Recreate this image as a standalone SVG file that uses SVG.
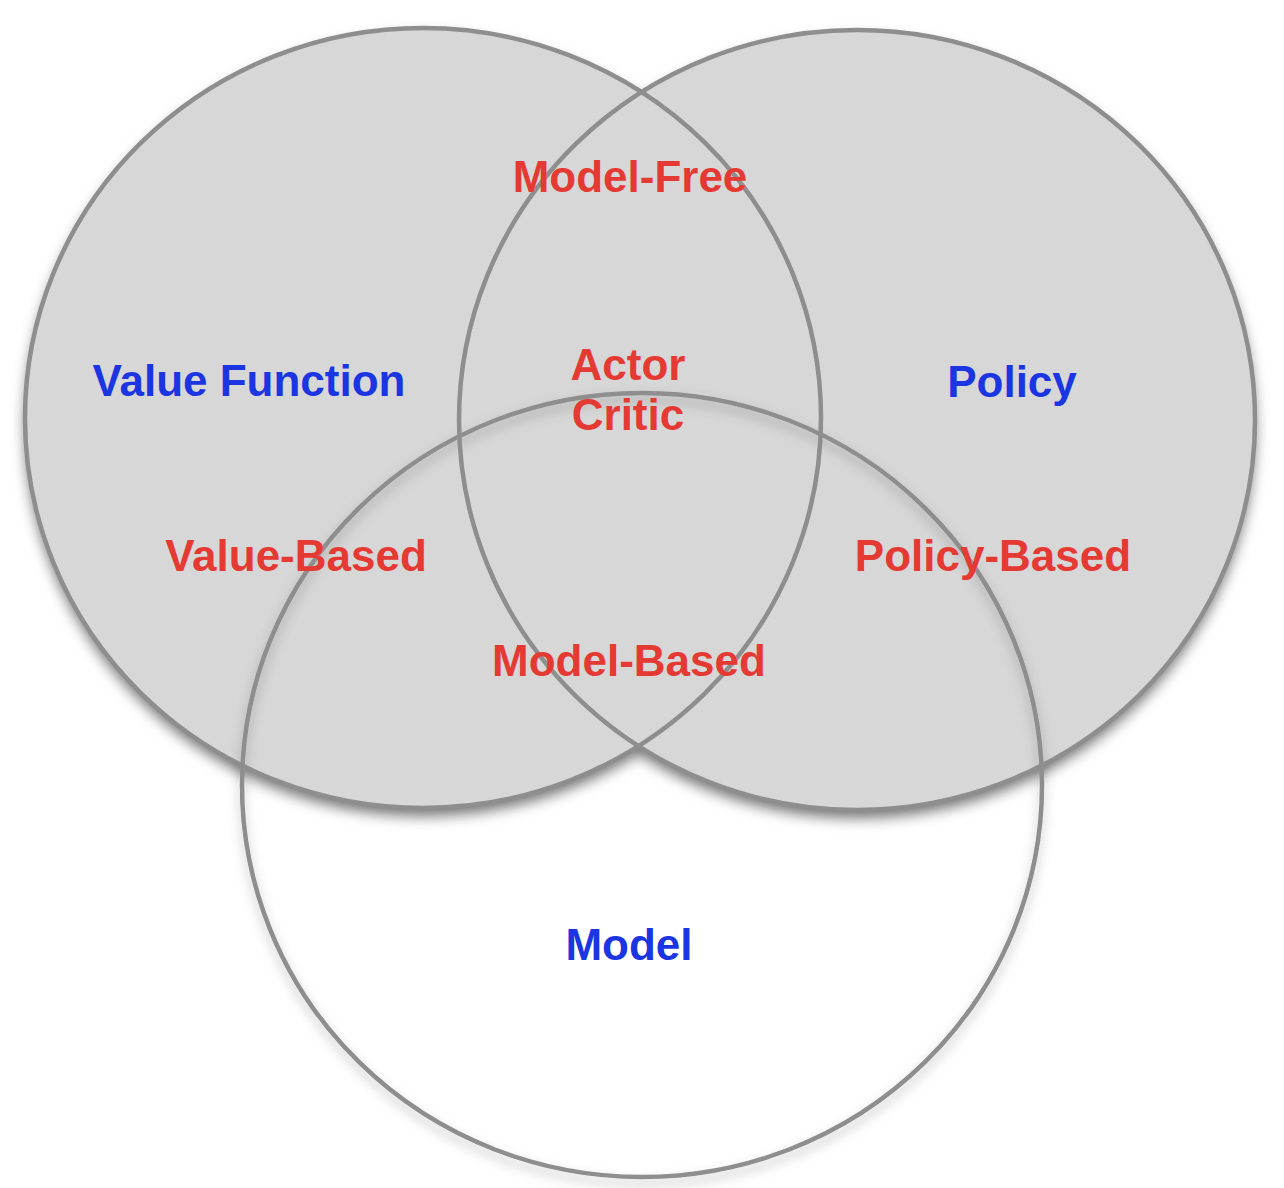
<svg xmlns="http://www.w3.org/2000/svg" width="1284" height="1188" viewBox="0 0 1284 1188">
  <style>
    .fill { fill: #d7d7d7; stroke: none; }
    .ring { fill: none; stroke: #8e8e8e; stroke-width: 4.5; }
    .lbl { font-family: "Liberation Sans", Arial, sans-serif; font-weight: bold; font-size: 44px; text-anchor: middle; }
    .blue { fill: #1b35e3; }
    .red { fill: #e53a33; }
  </style>
  <defs>
    <filter id="shadow" x="-10%" y="-10%" width="120%" height="125%">
      <feDropShadow dx="0" dy="8" stdDeviation="7" flood-color="#000" flood-opacity="0.55"/>
    </filter>
    <filter id="soft" x="-10%" y="-10%" width="120%" height="125%">
      <feDropShadow dx="0" dy="6" stdDeviation="6" flood-color="#000" flood-opacity="0.25"/>
    </filter>
  </defs>
  <rect width="1284" height="1188" fill="#ffffff"/>

  <g id="fills" filter="url(#shadow)">
    <ellipse class="fill" cx="423" cy="418" rx="398" ry="390"/>
    <ellipse class="fill" cx="857" cy="420" rx="398" ry="390"/>
  </g>

  <g id="model" filter="url(#soft)">
    <ellipse class="ring" cx="642" cy="785" rx="400" ry="392"/>
  </g>
  <g id="value-function">
    <ellipse class="ring" cx="423" cy="418" rx="398" ry="390"/>
  </g>
  <g id="policy">
    <ellipse class="ring" cx="857" cy="420" rx="398" ry="390"/>
  </g>

  <g id="labels">
    <text class="lbl blue" x="249" y="396">Value Function</text>
    <text class="lbl blue" x="1012" y="397">Policy</text>
    <text class="lbl blue" x="629" y="960">Model</text>
    <text class="lbl red" x="630" y="192">Model-Free</text>
    <text class="lbl red" x="628" y="380">Actor</text>
    <text class="lbl red" x="628" y="430">Critic</text>
    <text class="lbl red" x="296" y="571">Value-Based</text>
    <text class="lbl red" x="993" y="571">Policy-Based</text>
    <text class="lbl red" x="629" y="676">Model-Based</text>
  </g>
</svg>
